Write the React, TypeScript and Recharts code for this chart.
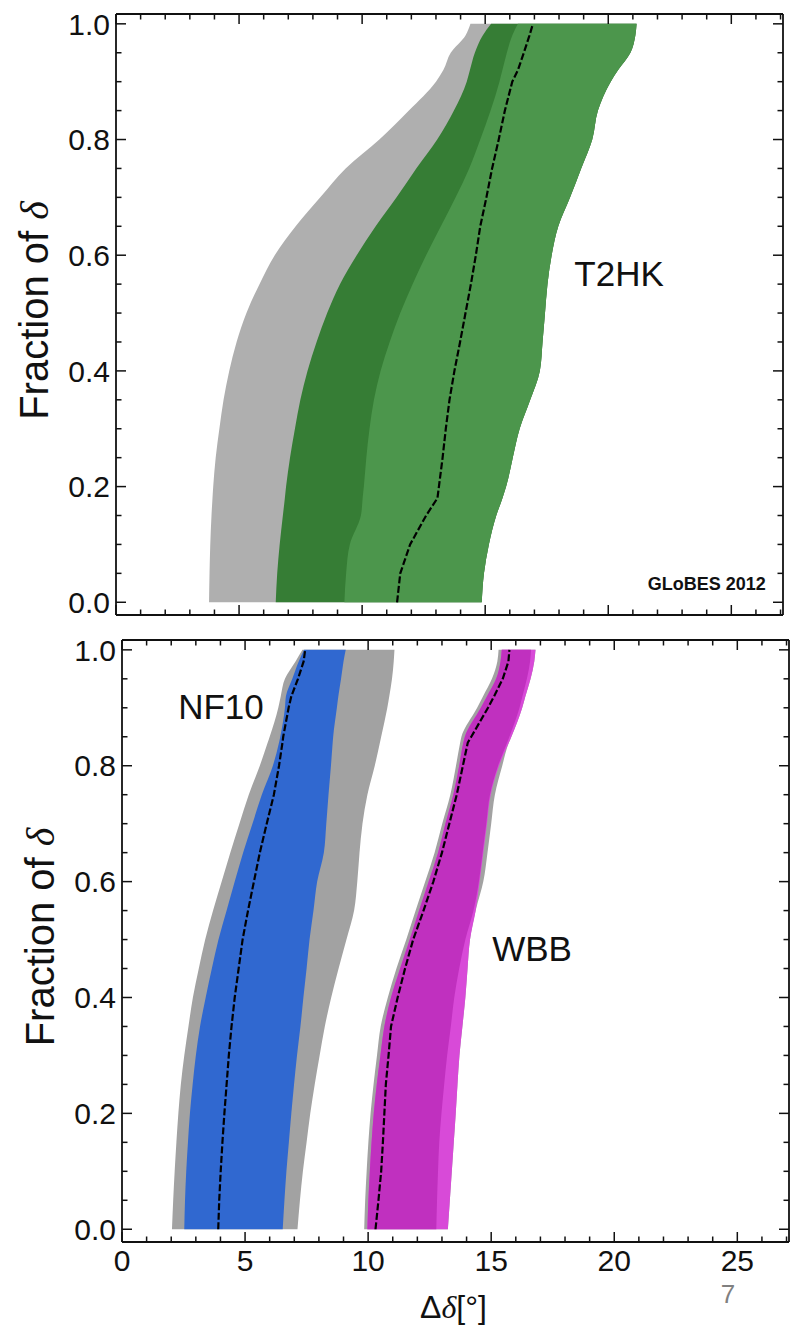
import React from 'react';
import { ComposedChart, Area, Line, XAxis, YAxis, ReferenceDot } from 'recharts';

const SANS = '"Liberation Sans", Arial, Helvetica, sans-serif';
const SERIF = '"Liberation Serif", "DejaVu Serif", serif';

// ---------- axis ticks ----------
const xTicks = [0, 1, 2, 3, 4, 5, 6, 7, 8, 9, 10, 11, 12, 13, 14, 15, 16, 17, 18, 19, 20, 21, 22, 23, 24, 25, 26, 27];
const xMajor = [0, 5, 10, 15, 20, 25];
const yTicks = [0, 0.05, 0.1, 0.15, 0.2, 0.25, 0.3, 0.35, 0.4, 0.45, 0.5, 0.55, 0.6, 0.65, 0.7, 0.75, 0.8, 0.85, 0.9, 0.95, 1.0];
const yMajor = [0, 0.2, 0.4, 0.6, 0.8, 1.0];
const xDomain = [0, 27.1];
const yDomain = [-0.022, 1.017];

// ---------- top panel: T2HK ----------
const fracTop = [0, 0.05, 0.1, 0.15, 0.18, 0.2, 0.25, 0.3, 0.35, 0.4, 0.45, 0.5, 0.55, 0.6, 0.65, 0.7, 0.75, 0.8, 0.85, 0.9, 0.92, 0.95, 0.98, 1.0];
const t2hkGrayLeft = [3.78, 3.8, 3.83, 3.88, 3.92, 3.95, 4.05, 4.2, 4.37, 4.6, 4.9, 5.3, 5.83, 6.45, 7.3, 8.3, 9.33, 10.7, 11.9, 13.0, 13.3, 13.6, 14.2, 14.4];
const t2hkDarkLeft = [6.49, 6.55, 6.65, 6.78, 6.86, 6.91, 7.07, 7.27, 7.49, 7.78, 8.15, 8.58, 9.1, 9.78, 10.55, 11.4, 12.2, 13.05, 13.73, 14.25, 14.38, 14.58, 14.9, 15.24];
const t2hkLightLeft = [9.28, 9.35, 9.5, 9.95, 10.02, 10.07, 10.17, 10.3, 10.48, 10.75, 11.12, 11.55, 12.05, 12.6, 13.2, 13.8, 14.35, 14.8, 15.22, 15.58, 15.7, 15.88, 16.1, 16.33];
const t2hkRight = [14.86, 14.95, 15.15, 15.45, 15.7, 15.85, 16.12, 16.4, 16.83, 17.22, 17.33, 17.43, 17.53, 17.7, 17.97, 18.45, 18.9, 19.35, 19.58, 20.1, 20.4, 20.9, 21.1, 21.15];
const t2hkCentral = [11.42, 11.55, 11.95, 12.6, 13.06, 13.12, 13.27, 13.4, 13.55, 13.75, 13.98, 14.2, 14.42, 14.62, 14.8, 15.05, 15.28, 15.55, 15.8, 16.1, 16.33, 16.57, 16.8, 16.94];

// ---------- bottom panel: NF10 and WBB ----------
const fracBottom = [0, 0.05, 0.1, 0.15, 0.2, 0.25, 0.3, 0.35, 0.4, 0.45, 0.5, 0.55, 0.6, 0.65, 0.7, 0.75, 0.8, 0.84, 0.85, 0.9, 0.92, 0.95, 0.98, 1.0];
const nfGrayLeft = [2.03, 2.08, 2.14, 2.21, 2.29, 2.39, 2.53, 2.7, 2.88, 3.12, 3.38, 3.7, 4.05, 4.4, 4.77, 5.15, 5.6, 5.92, 6.0, 6.35, 6.45, 6.62, 7.05, 7.33];
const nfBlueLeft = [2.53, 2.56, 2.61, 2.68, 2.76, 2.87, 3.0, 3.17, 3.4, 3.65, 3.92, 4.25, 4.58, 4.92, 5.3, 5.68, 6.13, 6.38, 6.43, 6.62, 6.66, 6.92, 7.18, 7.4];
const nfCentral = [3.91, 3.95, 4.01, 4.08, 4.16, 4.25, 4.34, 4.45, 4.58, 4.74, 4.9, 5.12, 5.36, 5.6, 5.88, 6.17, 6.38, 6.52, 6.55, 6.77, 6.88, 7.15, 7.38, 7.44];
const nfBlueRight = [6.53, 6.6, 6.68, 6.78, 6.88, 6.99, 7.11, 7.25, 7.37, 7.5, 7.62, 7.78, 7.93, 8.2, 8.3, 8.39, 8.49, 8.56, 8.58, 8.73, 8.79, 8.9, 9.0, 9.09];
const nfGrayRight = [7.13, 7.23, 7.35, 7.5, 7.65, 7.83, 8.03, 8.24, 8.5, 8.8, 9.12, 9.43, 9.56, 9.65, 9.77, 9.97, 10.27, 10.48, 10.53, 10.78, 10.86, 10.97, 11.04, 11.07];

const wbbGrayLeft = [9.84, 9.88, 9.94, 10.01, 10.1, 10.22, 10.36, 10.51, 10.8, 11.15, 11.55, 11.93, 12.32, 12.7, 13.01, 13.34, 13.57, 13.74, 13.79, 14.43, 14.67, 15.03, 15.25, 15.3];
const wbbMagLeft = [9.97, 10.01, 10.07, 10.14, 10.23, 10.35, 10.5, 10.66, 10.93, 11.3, 11.69, 12.07, 12.46, 12.84, 13.14, 13.46, 13.7, 13.87, 13.93, 14.58, 14.83, 15.2, 15.38, 15.43];
const wbbCentral = [10.3, 10.42, 10.53, 10.6, 10.66, 10.72, 10.83, 10.93, 11.2, 11.5, 11.83, 12.25, 12.65, 13.0, 13.3, 13.6, 13.85, 14.05, 14.19, 14.87, 15.12, 15.47, 15.7, 15.74];
const wbbDarkRight = [12.77, 12.8, 12.84, 12.89, 12.98, 13.09, 13.21, 13.36, 13.5, 13.7, 13.95, 14.28, 14.5, 14.65, 14.8, 14.95, 15.28, 15.65, 15.74, 16.15, 16.27, 16.45, 16.58, 16.62];
const wbbOuterRight = [13.24, 13.32, 13.4, 13.48, 13.56, 13.63, 13.71, 13.83, 13.95, 14.04, 14.14, 14.37, 14.53, 14.68, 14.83, 14.98, 15.32, 15.72, 15.82, 16.26, 16.39, 16.6, 16.75, 16.8];
const wbbGrayRight = [13.24, 13.32, 13.4, 13.48, 13.56, 13.63, 13.71, 13.83, 13.95, 14.04, 14.14, 14.37, 14.68, 14.85, 15.0, 15.15, 15.45, 15.72, 15.82, 16.26, 16.39, 16.6, 16.75, 16.8];

const topData = fracTop.map((f, i) => ({
  f,
  gray: [t2hkGrayLeft[i], t2hkRight[i]],
  dark: [t2hkDarkLeft[i], t2hkRight[i]],
  light: [t2hkLightLeft[i], t2hkRight[i]],
  mid: t2hkCentral[i],
}));

const bottomData = fracBottom.map((f, i) => ({
  f,
  nfGray: [nfGrayLeft[i], nfGrayRight[i]],
  nfBlue: [nfBlueLeft[i], nfBlueRight[i]],
  nfMid: nfCentral[i],
  wbbGray: [wbbGrayLeft[i], wbbGrayRight[i]],
  wbbLight: [wbbMagLeft[i], wbbOuterRight[i]],
  wbbDark: [wbbMagLeft[i], wbbDarkRight[i]],
  wbbMid: wbbCentral[i],
}));

// ---------- styling ----------
const FRAME = '#111';
const TICK_FONT = 30;
const DASH = '7 2.5';

type Side = 'left' | 'right' | 'top' | 'bottom';
const isIn = (arr: number[], v: number) => arr.some((m) => Math.abs(m - v) < 1e-6);

function makeTick(side: Side, majors: number[], labelled: boolean) {
  return (props: any) => {
    const { x, y, payload } = props;
    const v = payload.value as number;
    const major = isIn(majors, v);
    const len = major ? 10 : 5.5;
    let x2 = x;
    let y2 = y;
    if (side === 'left') x2 = x + len;
    else if (side === 'right') x2 = x - len;
    else if (side === 'bottom') y2 = y - len;
    else y2 = y + len;
    let label: any = null;
    if (labelled && major) {
      if (side === 'left') {
        label = (
          <text x={x - 6} y={y + TICK_FONT * 0.358} textAnchor="end" fontFamily={SANS} fontSize={TICK_FONT} fill="#111">
            {v.toFixed(1)}
          </text>
        );
      } else if (side === 'bottom') {
        label = (
          <text x={x} y={y + 29} textAnchor="middle" fontFamily={SANS} fontSize={TICK_FONT} fill="#111">
            {String(v)}
          </text>
        );
      }
    }
    return (
      <g>
        <line x1={x} y1={y} x2={x2} y2={y2} stroke={FRAME} strokeWidth={1.5} />
        {label}
      </g>
    );
  };
}

const yTitle = (props: any) => {
  const vb = props.viewBox || {};
  const cx = vb.x + vb.width - 68;
  const cy = vb.y + vb.height / 2 - 4;
  return (
    <text
      x={cx}
      y={cy}
      transform={`rotate(-90, ${cx}, ${cy})`}
      textAnchor="middle"
      fontFamily={SANS}
      fontSize={40}
      fill="#111"
    >
      Fraction of <tspan fontFamily={SERIF} fontStyle="italic">δ</tspan>
    </text>
  );
};

const xTitle = (props: any) => {
  const vb = props.viewBox || {};
  const cx = vb.x + vb.width / 2 - 2;
  return (
    <g>
      <text x={cx} y={vb.y + 76} textAnchor="middle" fontFamily={SANS} fontSize={32} fill="#111">
        Δ<tspan fontFamily={SERIF} fontStyle="italic">δ</tspan>[°]
      </text>
      <text x={vb.x + 606} y={vb.y + 61} textAnchor="middle" fontFamily={SANS} fontSize={26} fill="#808080">
        7
      </text>
    </g>
  );
};

const textLabel = (text: string, size: number, bold = false) => (props: any) => {
  const vb = props.viewBox || {};
  const cx = vb.x + (vb.width || 0) / 2;
  const cy = vb.y + (vb.height || 0) / 2;
  return (
    <text
      x={cx}
      y={cy + size * 0.358}
      textAnchor="middle"
      fontFamily={SANS}
      fontSize={size}
      fontWeight={bold ? 'bold' : 'normal'}
      fill="#111"
    >
      {text}
    </text>
  );
};

const axisLine = { stroke: FRAME, strokeWidth: 1.8 };

function frameAxes(xLabelled: boolean, withXTitle: boolean) {
  return [
    <XAxis
      key="xb"
      type="number"
      domain={xDomain}
      allowDataOverflow
      ticks={xTicks}
      interval={0}
      height={1}
      tickSize={0}
      tickMargin={0}
      tickLine={false}
      axisLine={axisLine}
      tick={makeTick('bottom', xMajor, xLabelled)}
      label={withXTitle ? xTitle : undefined}
    />,
    <XAxis
      key="xt"
      xAxisId="t"
      orientation="top"
      type="number"
      domain={xDomain}
      allowDataOverflow
      ticks={xTicks}
      interval={0}
      height={1}
      tickSize={0}
      tickMargin={0}
      tickLine={false}
      axisLine={axisLine}
      tick={makeTick('top', xMajor, false)}
    />,
    <YAxis
      key="yl"
      type="number"
      dataKey="f"
      reversed
      domain={yDomain}
      allowDataOverflow
      ticks={yTicks}
      interval={0}
      width={1}
      tickSize={0}
      tickMargin={0}
      tickLine={false}
      axisLine={axisLine}
      tick={makeTick('left', yMajor, true)}
      label={yTitle}
    />,
    <YAxis
      key="yr"
      yAxisId="r"
      orientation="right"
      type="number"
      dataKey="f"
      reversed
      domain={yDomain}
      allowDataOverflow
      ticks={yTicks}
      interval={0}
      width={1}
      tickSize={0}
      tickMargin={0}
      tickLine={false}
      axisLine={axisLine}
      tick={makeTick('right', yMajor, false)}
    />,
  ];
}

const band = (key: string, fill: string) => (
  <Area
    key={key}
    type="monotone"
    dataKey={key}
    stroke="none"
    fill={fill}
    fillOpacity={1}
    isAnimationActive={false}
    dot={false}
    activeDot={false}
  />
);

const centre = (key: string) => (
  <Line
    key={key}
    type="linear"
    dataKey={key}
    stroke="#000"
    strokeWidth={2.2}
    strokeDasharray={DASH}
    dot={false}
    activeDot={false}
    isAnimationActive={false}
  />
);

export default function App() {
  return (
    <div style={{ position: 'absolute', left: 0, top: 0, width: 792, height: 1328, background: '#fff' }}>
      <div style={{ position: 'absolute', left: 0, top: 0 }}>
        <ComposedChart
          width={792}
          height={630}
          layout="vertical"
          data={topData}
          margin={{ top: 13, right: 8, bottom: 14, left: 115 }}
        >
          {frameAxes(false, false)}
          {band('gray', '#afafaf')}
          {band('dark', '#367d35')}
          {band('light', '#4c964c')}
          {centre('mid')}
          <ReferenceDot x={20.44} y={0.568} r={0} fill="none" stroke="none" label={textLabel('T2HK', 35)} />
          <ReferenceDot x={24.0} y={0.0324} r={0} fill="none" stroke="none" label={textLabel('GLoBES 2012', 18, true)} />
        </ComposedChart>
      </div>
      <div style={{ position: 'absolute', left: 0, top: 630 }}>
        <ComposedChart
          width={792}
          height={698}
          layout="vertical"
          data={bottomData}
          margin={{ top: 9, right: 2, bottom: 85, left: 121 }}
        >
          {frameAxes(true, true)}
          {band('nfGray', '#a2a2a2')}
          {band('nfBlue', '#3068d0')}
          {centre('nfMid')}
          {band('wbbGray', '#a2a2a2')}
          {band('wbbLight', '#d84ad8')}
          {band('wbbDark', '#c030bf')}
          {centre('wbbMid')}
          <ReferenceDot x={4.02} y={0.903} r={0} fill="none" stroke="none" label={textLabel('NF10', 35)} />
          <ReferenceDot x={16.66} y={0.4846} r={0} fill="none" stroke="none" label={textLabel('WBB', 35)} />
        </ComposedChart>
      </div>
    </div>
  );
}
